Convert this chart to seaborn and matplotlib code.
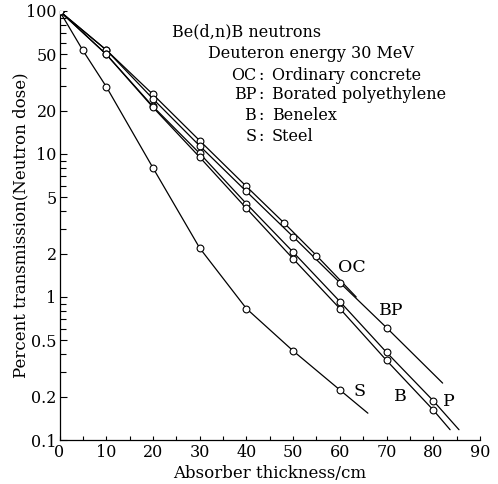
import matplotlib
matplotlib.use("Agg")
import numpy as np
import pandas as pd
import seaborn as sns
import matplotlib.pyplot as plt
from matplotlib.ticker import FixedLocator, FixedFormatter, NullFormatter, MultipleLocator

# ---------------- data ----------------
materials = ["OC", "BP", "P", "B", "S"]

oc_x = [0, 10, 20, 30, 40, 48, 55]
oc_y = [100, 53.4, 26.1, 12.4, 5.93, 3.31, 1.95]
oc_end = [63.5, 1.0]

bp_x = [0, 10, 20, 30, 40, 50, 60, 70]
bp_y = [100, 53.4, 24.3, 11.4, 5.47, 2.64, 1.26, 0.61]
bp_end = [82.0, 0.25]

p_x = [0, 10, 20, 30, 40, 50, 60, 70, 80]
p_y = [100, 49.8, 21.5, 10.1, 4.49, 2.06, 0.93, 0.41, 0.188]
p_end = [85.5, 0.118]

b_x = [0, 10, 20, 30, 40, 50, 60, 70, 80]
b_y = [100, 49.8, 21.2, 9.5, 4.17, 1.85, 0.83, 0.36, 0.162]
b_end = [83.6, 0.118]

s_x = [0, 5, 10, 20, 30, 40, 50, 60]
s_y = [100, 53, 29.6, 8.0, 2.2, 0.83, 0.42, 0.224]
s_end = [66.0, 0.154]

y_ticks = [0.1, 0.2, 0.5, 1, 2, 5, 10, 20, 50, 100]
y_tick_labels = ["0.1", "0.2", "0.5", "1", "2", "5", "10", "20", "50", "100"]
y_minor = [0.3, 0.4, 0.6, 0.7, 0.8, 0.9, 3, 4, 6, 7, 8, 9,
           30, 40, 60, 70, 80, 90]

# label positions for the curve names (data coordinates)
curve_labels = ["OC", "BP", "P", "B", "S"]
curve_label_x = [62.6, 71.1, 83.4, 72.9, 64.1]
curve_label_y = [1.62, 0.81, 0.185, 0.203, 0.218]

# ---------------- build tables ----------------
series = {
    "OC": (oc_x, oc_y, oc_end),
    "BP": (bp_x, bp_y, bp_end),
    "P": (p_x, p_y, p_end),
    "B": (b_x, b_y, b_end),
    "S": (s_x, s_y, s_end),
}
rows = []
for m in materials:
    xs, ys, end = series[m]
    for xv, yv in zip(xs, ys):
        rows.append({"material": m, "x": xv, "y": yv, "kind": "measured"})
    rows.append({"material": m, "x": end[0], "y": end[1], "kind": "end"})
df = pd.DataFrame(rows)
meas = df[df["kind"] == "measured"]

# ---------------- style ----------------
sns.set_theme(style="white")
plt.rcParams["font.family"] = ["DejaVu Serif"]
plt.rcParams["axes.edgecolor"] = "black"
plt.rcParams["text.color"] = "black"
plt.rcParams["axes.labelcolor"] = "black"
plt.rcParams["xtick.color"] = "black"
plt.rcParams["ytick.color"] = "black"

fig = plt.figure(figsize=(4.98, 4.84), dpi=100)
ax = fig.add_axes([0.1195, 0.0909, 0.8444, 0.8864])
ax.set_yscale("log")

sns.lineplot(data=df, x="x", y="y", units="material", estimator=None,
             color="black", linewidth=0.9, sort=True, ax=ax, legend=False)
sns.scatterplot(data=meas, x="x", y="y", marker="o", s=24,
                facecolor="white", edgecolor="black", linewidth=0.8,
                zorder=3, ax=ax, legend=False)

ax.set_xlim(0, 90)
ax.set_ylim(0.1, 100)

ax.xaxis.set_major_locator(MultipleLocator(10))
ax.xaxis.set_minor_locator(MultipleLocator(5))
ax.yaxis.set_major_locator(FixedLocator(y_ticks))
ax.yaxis.set_major_formatter(FixedFormatter(y_tick_labels))
ax.yaxis.set_minor_locator(FixedLocator(y_minor))
ax.yaxis.set_minor_formatter(NullFormatter())

ax.tick_params(axis="both", which="both", direction="in", left=True,
               bottom=True, width=0.8, labelsize=11.5)
ax.tick_params(axis="y", which="major", length=5, pad=2)
ax.tick_params(axis="y", which="minor", length=4)
ax.tick_params(axis="x", which="major", length=3, pad=3)
ax.tick_params(axis="x", which="minor", length=3)

for side in ["top", "right"]:
    ax.spines[side].set_visible(False)
for side in ["left", "bottom"]:
    ax.spines[side].set_linewidth(0.9)
ax.grid(False)

ax.set_xlabel("Absorber thickness/cm", fontsize=12)
ax.set_ylabel("Percent transmission(Neutron dose)", fontsize=12)
ax.xaxis.set_label_coords(0.5, -0.058)
ax.yaxis.set_label_coords(-0.072, 0.5)

# description block
fs = 11.5
ax.text(24.0, 71.6, "Be(d,n)B neutrons", fontsize=fs, ha="left", va="center")
ax.text(31.85, 50.6, "Deuteron energy 30 MeV", fontsize=fs, ha="left", va="center")
legend_keys = ["OC", "BP", "B", "S"]
legend_desc = ["Ordinary concrete", "Borated polyethylene", "Benelex", "Steel"]
legend_y = [35.6, 25.9, 18.7, 13.2]
for k, d, yv in zip(legend_keys, legend_desc, legend_y):
    ax.text(42.1, yv, k, fontsize=fs, ha="right", va="center")
    ax.text(43.2, yv, ":", fontsize=fs, ha="center", va="center")
    ax.text(45.4, yv, d, fontsize=fs, ha="left", va="center")

for lab, lx, ly in zip(curve_labels, curve_label_x, curve_label_y):
    ax.text(lx, ly, lab, fontsize=12.5, ha="center", va="center")

fig.savefig("out.png", dpi=100)
